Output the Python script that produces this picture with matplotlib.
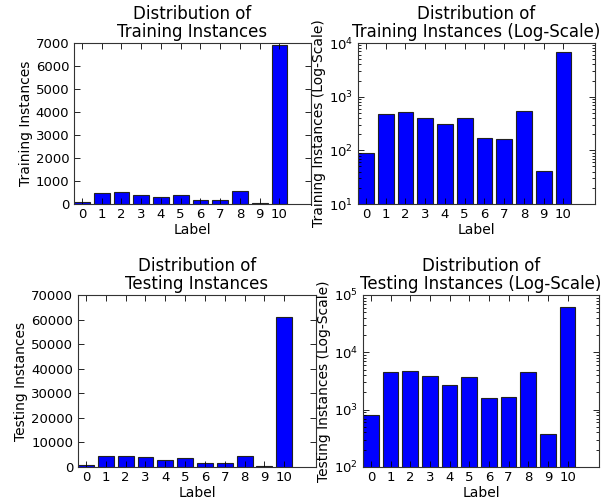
import matplotlib
matplotlib.use("Agg")
import matplotlib.pyplot as plt
import numpy as np

# Label counts
labels = [0, 1, 2, 3, 4, 5, 6, 7, 8, 9, 10]
train_counts = [88, 479, 521, 392, 311, 403, 173, 166, 552, 42, 6900]
test_counts = [805, 4520, 4640, 3900, 2710, 3640, 1625, 1690, 4520, 380, 61000]

TITLE_SIZE = 12
LABEL_SIZE = 10
TICK_SIZE = 9.5


def draw_bars(ax, counts, ylabel, title, log=False, ylim=None, yticks=None):
    x = np.arange(len(labels))
    ax.bar(x, counts, width=0.8, align='edge', color='#0000ff',
           edgecolor='#222222', linewidth=0.8)
    ax.set_xlim(0, 12)
    ax.set_xticks(x + 0.4)
    ax.set_xticklabels([str(l) for l in labels])
    if log:
        ax.set_yscale('log')
    if ylim is not None:
        ax.set_ylim(*ylim)
    if yticks is not None:
        ax.set_yticks(yticks)
    ax.tick_params(which='both', direction='in', top=True, right=True,
                   labelsize=TICK_SIZE)
    ax.tick_params(which='major', length=4, width=0.6)
    ax.tick_params(which='minor', length=2, width=0.6)
    ax.tick_params(axis='x', pad=3)
    for s in ax.spines.values():
        s.set_linewidth(0.8)
        s.set_color('#333333')
    ax.set_xlabel('Label', fontsize=LABEL_SIZE, labelpad=1)
    ax.set_ylabel(ylabel, fontsize=LABEL_SIZE, labelpad=2)
    ax.set_title(title, fontsize=TITLE_SIZE, pad=4, linespacing=1.05)


W, H = 611, 503
fig = plt.figure(figsize=(W / 100, H / 100), dpi=100)
fig.patch.set_facecolor('white')


def rect(left, right, top, bottom):
    return [left / W, (H - bottom) / H, (right - left) / W, (bottom - top) / H]


ax1 = fig.add_axes(rect(74, 311, 43, 204))
ax2 = fig.add_axes(rect(358, 595, 43, 204))
ax3 = fig.add_axes(rect(78, 316, 295, 467))
ax4 = fig.add_axes(rect(363, 599, 295, 467))

draw_bars(ax1, train_counts, 'Training Instances',
          'Distribution of\nTraining Instances',
          ylim=(0, 7000), yticks=np.arange(0, 7001, 1000))
draw_bars(ax2, train_counts, 'Training Instances (Log-Scale)',
          'Distribution of\nTraining Instances (Log-Scale)',
          log=True, ylim=(10, 1e4))
draw_bars(ax3, test_counts, 'Testing Instances',
          'Distribution of\nTesting Instances',
          ylim=(0, 70000), yticks=np.arange(0, 70001, 10000))
draw_bars(ax4, test_counts, 'Testing Instances (Log-Scale)',
          'Distribution of\nTesting Instances (Log-Scale)',
          log=True, ylim=(100, 1e5))

fig.savefig('out.png', dpi=100, facecolor='white')
